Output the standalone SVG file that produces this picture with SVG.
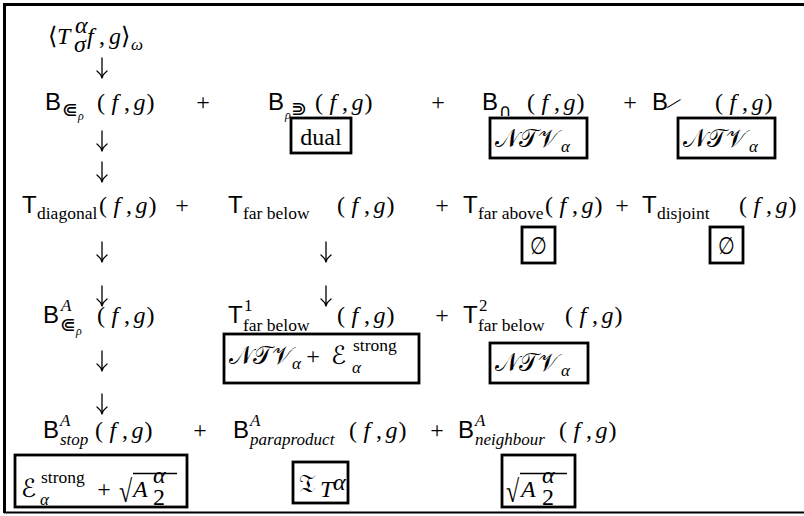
<svg xmlns="http://www.w3.org/2000/svg" width="804" height="516" viewBox="0 0 804 516">
<style>
.sf{font-family:"Liberation Sans",Arial,sans-serif;font-size:24px}
.rm{font-family:"Liberation Serif","DejaVu Serif",serif;font-size:24px}
.it{font-family:"Liberation Serif","DejaVu Serif",serif;font-style:italic;font-size:24px}
.sym{font-family:"DejaVu Sans",sans-serif}
.cal{font-family:"DejaVu Sans","DejaVu Serif","Noto Sans",serif;font-size:25px}
.sub{font-size:17px}
.st{font-size:17.5px}
.ss{font-size:12px}
.box{fill:none;stroke:#000;stroke-width:2.8}
.arr{fill:none;stroke:#000;stroke-width:1.3;stroke-linecap:round}
.frame{fill:none;stroke:#000}
.bar{stroke:#000;stroke-width:1.3}
</style>
<defs>
<path id="dn" class="arr" d="M0,0 V20 M-5,13 Q-1,16 0,20 Q1,16 5,13"/>
</defs>
<rect width="804" height="516" fill="#fff"/>
<g id="frame">
<path class="frame" stroke-width="3" d="M4.5,513 V4.5 H804"/>
<path class="frame" stroke-width="2" d="M4,512.5 H804"/>
</g>
<g id="connectors">
<use href="#dn" x="102" y="58"/>
<use href="#dn" x="102" y="131"/>
<use href="#dn" x="102" y="162"/>
<use href="#dn" x="102" y="242"/>
<use href="#dn" x="102" y="286"/>
<use href="#dn" x="326" y="242"/>
<use href="#dn" x="326" y="286"/>
<use href="#dn" x="102" y="351"/>
<use href="#dn" x="102" y="394"/>
</g>
<g id="top">
<text class="rm" x="48" y="44">⟨</text>
<text class="it" x="57" y="44">T</text>
<text class="it" font-size="16" x="75" y="33">α</text>
<text class="it" font-size="16" x="74" y="52">σ</text>
<text class="it" x="87" y="44">f</text>
<text class="rm" x="99" y="44">,</text>
<text class="it" x="109" y="44">g</text>
<text class="rm" x="121" y="44">⟩</text>
<text class="it sub" x="131" y="50">ω</text>
</g>
<g id="B-sub">
<text class="sf" x="45" y="110">B</text>
<text class="sym" font-size="19" x="62" y="116">⋐</text>
<text class="it ss" x="78" y="120">ρ</text>
<text class="rm" y="110"><tspan x="97">(</tspan><tspan class="it" x="111.5">f</tspan><tspan x="124">,</tspan><tspan class="it" x="133.5">g</tspan><tspan x="146.5">)</tspan></text>
</g>
<text class="rm" x="203" y="110" text-anchor="middle">+</text>
<g id="B-sup">
<text class="sf" x="268" y="110">B</text>
<text class="it ss" x="285" y="119">ρ</text>
<text class="sym" font-size="19" x="291" y="115">⋑</text>
<text class="rm" y="110"><tspan x="315">(</tspan><tspan class="it" x="329.5">f</tspan><tspan x="342">,</tspan><tspan class="it" x="351.5">g</tspan><tspan x="364.5">)</tspan></text>
<rect class="box" x="291" y="118" width="60" height="35"/>
<text class="rm" x="321" y="145" text-anchor="middle">dual</text>
</g>
<text class="rm" x="438" y="110" text-anchor="middle">+</text>
<g id="B-cap">
<text class="sf" x="482" y="110">B</text>
<text class="sym sub" x="499" y="116">∩</text>
<text class="rm" y="110"><tspan x="527">(</tspan><tspan class="it" x="541.5">f</tspan><tspan x="554">,</tspan><tspan class="it" x="563.5">g</tspan><tspan x="576.5">)</tspan></text>
<rect class="box" x="490" y="118" width="97" height="40"/>
<text class="cal" x="495" y="147">𝒩𝒯𝒱</text>
<text class="it sub" x="561" y="152">α</text>
</g>
<text class="rm" x="630" y="110" text-anchor="middle">+</text>
<g id="B-diag">
<text class="sf" x="652" y="110">B</text>
<text class="sym" font-size="14" transform="translate(667,106) scale(1.6,0.5)">╱</text>
<text class="rm" y="110"><tspan x="715">(</tspan><tspan class="it" x="729.5">f</tspan><tspan x="742">,</tspan><tspan class="it" x="751.5">g</tspan><tspan x="764.5">)</tspan></text>
<rect class="box" x="678" y="118" width="97" height="40"/>
<text class="cal" x="683" y="147">𝒩𝒯𝒱</text>
<text class="it sub" x="749" y="152">α</text>
</g>
<g id="T-diagonal">
<text class="sf" x="22" y="213">T</text>
<text class="rm st" x="37" y="219">diagonal</text>
<text class="rm" y="213"><tspan x="99">(</tspan><tspan class="it" x="113.5">f</tspan><tspan x="126">,</tspan><tspan class="it" x="135.5">g</tspan><tspan x="148.5">)</tspan></text>
</g>
<text class="rm" x="182" y="213" text-anchor="middle">+</text>
<g id="T-farbelow">
<text class="sf" x="228" y="213">T</text>
<text class="rm st" x="243" y="219">far below</text>
<text class="rm" y="213"><tspan x="337">(</tspan><tspan class="it" x="351.5">f</tspan><tspan x="364">,</tspan><tspan class="it" x="373.5">g</tspan><tspan x="386.5">)</tspan></text>
</g>
<text class="rm" x="442" y="213" text-anchor="middle">+</text>
<g id="T-farabove">
<text class="sf" x="463" y="213">T</text>
<text class="rm st" x="478" y="219">far above</text>
<text class="rm" y="213"><tspan x="545">(</tspan><tspan class="it" x="559.5">f</tspan><tspan x="572">,</tspan><tspan class="it" x="581.5">g</tspan><tspan x="594.5">)</tspan></text>
<rect class="box" x="522" y="227" width="33" height="36"/>
<text class="sf" x="538.5" y="254" text-anchor="middle" transform="translate(538.5,0) scale(0.8,1) translate(-538.5,0)">∅</text>
</g>
<text class="rm" x="622" y="213" text-anchor="middle">+</text>
<g id="T-disjoint">
<text class="sf" x="642" y="213">T</text>
<text class="rm st" x="657" y="219">disjoint</text>
<text class="rm" y="213"><tspan x="739">(</tspan><tspan class="it" x="753.5">f</tspan><tspan x="766">,</tspan><tspan class="it" x="775.5">g</tspan><tspan x="788.5">)</tspan></text>
<rect class="box" x="710" y="227" width="33" height="36"/>
<text class="sf" x="726.5" y="254" text-anchor="middle" transform="translate(726.5,0) scale(0.8,1) translate(-726.5,0)">∅</text>
</g>
<g id="BA-sub">
<text class="sf" x="43" y="323">B</text>
<text class="it sub" x="61" y="311">A</text>
<text class="sym" font-size="19" x="60" y="331">⋐</text>
<text class="it ss" x="76" y="335">ρ</text>
<text class="rm" y="323"><tspan x="97">(</tspan><tspan class="it" x="111.5">f</tspan><tspan x="124">,</tspan><tspan class="it" x="133.5">g</tspan><tspan x="146.5">)</tspan></text>
</g>
<g id="T1-farbelow">
<text class="sf" x="228" y="323">T</text>
<text class="rm sub" x="244" y="311">1</text>
<text class="rm st" x="243" y="331">far below</text>
<text class="rm" y="323"><tspan x="337">(</tspan><tspan class="it" x="351.5">f</tspan><tspan x="364">,</tspan><tspan class="it" x="373.5">g</tspan><tspan x="386.5">)</tspan></text>
<rect class="box" x="224" y="334" width="195" height="49"/>
<text class="cal" x="229" y="364">𝒩𝒯𝒱</text>
<text class="it sub" x="292" y="369">α</text>
<text class="rm" x="313" y="364" text-anchor="middle">+</text>
<text class="cal" x="331" y="364">ℰ</text>
<text class="rm st" x="353" y="351">strong</text>
<text class="it sub" x="352" y="373">α</text>
</g>
<text class="rm" x="442" y="323" text-anchor="middle">+</text>
<g id="T2-farbelow">
<text class="sf" x="463" y="323">T</text>
<text class="rm sub" x="479" y="311">2</text>
<text class="rm st" x="478" y="331">far below</text>
<text class="rm" y="323"><tspan x="565">(</tspan><tspan class="it" x="579.5">f</tspan><tspan x="592">,</tspan><tspan class="it" x="601.5">g</tspan><tspan x="614.5">)</tspan></text>
<rect class="box" x="490" y="343" width="98" height="40"/>
<text class="cal" x="495" y="371">𝒩𝒯𝒱</text>
<text class="it sub" x="561" y="376">α</text>
</g>
<g id="BA-stop">
<text class="sf" x="43" y="438">B</text>
<text class="it sub" x="60" y="426">A</text>
<text class="it sub" x="60" y="445">stop</text>
<text class="rm" y="438"><tspan x="95">(</tspan><tspan class="it" x="109.5">f</tspan><tspan x="122">,</tspan><tspan class="it" x="131.5">g</tspan><tspan x="144.5">)</tspan></text>
<rect class="box" x="15" y="455" width="172" height="52"/>
<text class="cal" x="21" y="497">ℰ</text>
<text class="rm st" x="41" y="483">strong</text>
<text class="it sub" x="40" y="505">α</text>
<text class="rm" x="104" y="497" text-anchor="middle">+</text>
<text class="rm" font-size="28" transform="translate(119,502) scale(1,1.3)">√</text>
<line class="bar" x1="133" y1="473.5" x2="177" y2="473.5"/>
<text class="it" x="133" y="497">A</text>
<text class="it" font-size="13" x="153" y="483">α</text>
<text class="rm" font-size="13" x="153" y="505">2</text>
</g>
<text class="rm" x="200" y="438" text-anchor="middle">+</text>
<g id="BA-paraproduct">
<text class="sf" x="233" y="438">B</text>
<text class="it sub" x="250" y="426">A</text>
<text class="it sub" x="250" y="445">paraproduct</text>
<text class="rm" y="438"><tspan x="349">(</tspan><tspan class="it" x="363.5">f</tspan><tspan x="376">,</tspan><tspan class="it" x="385.5">g</tspan><tspan x="398.5">)</tspan></text>
<rect class="box" x="293" y="462" width="55" height="41"/>
<text class="cal" x="299" y="492">𝔗</text>
<text class="it" font-size="15" x="320" y="497">T</text>
<text class="it" font-size="11" x="333" y="490">α</text>
</g>
<text class="rm" x="437" y="438" text-anchor="middle">+</text>
<g id="BA-neighbour">
<text class="sf" x="458" y="438">B</text>
<text class="it sub" x="475" y="426">A</text>
<text class="it sub" x="475" y="445">neighbour</text>
<text class="rm" y="438"><tspan x="559">(</tspan><tspan class="it" x="573.5">f</tspan><tspan x="586">,</tspan><tspan class="it" x="595.5">g</tspan><tspan x="608.5">)</tspan></text>
<rect class="box" x="502" y="455" width="73" height="52"/>
<text class="rm" font-size="28" transform="translate(506,502) scale(1,1.3)">√</text>
<line class="bar" x1="520" y1="473.5" x2="567" y2="473.5"/>
<text class="it" x="521" y="497">A</text>
<text class="it" font-size="13" x="542" y="483">α</text>
<text class="rm" font-size="13" x="542" y="505">2</text>
</g>
</svg>
